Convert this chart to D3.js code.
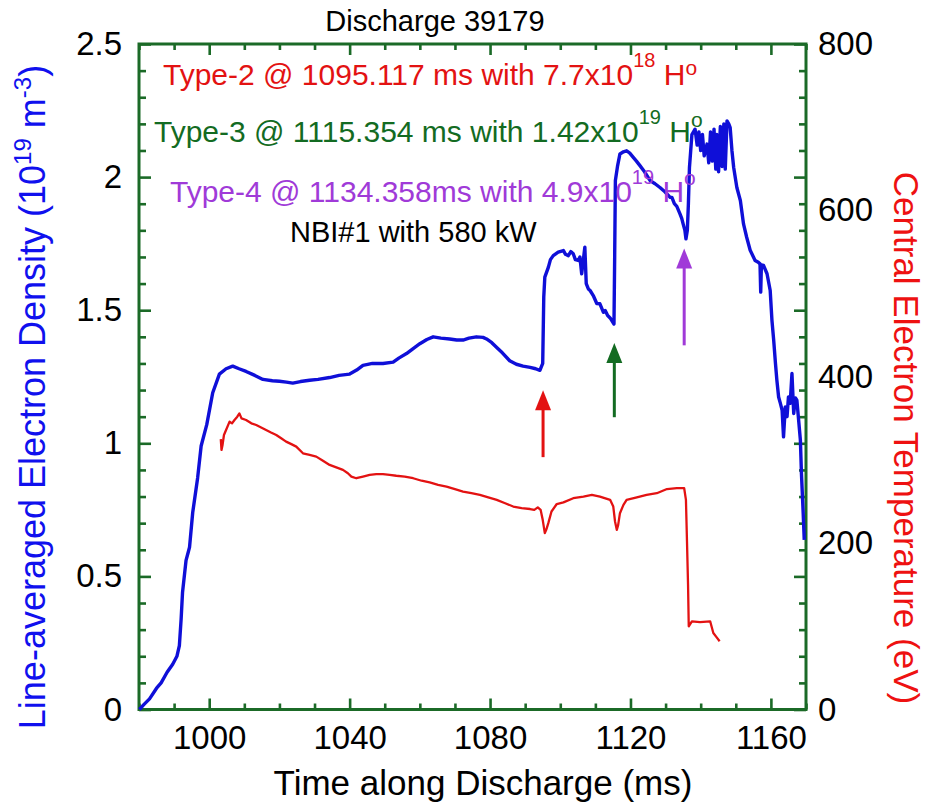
<!DOCTYPE html>
<html>
<head>
<meta charset="utf-8">
<script src="https://cdn.jsdelivr.net/npm/d3@7/dist/d3.min.js"></script>
<style>
  html, body { margin: 0; padding: 0; background: #fff; }
  svg { display: block; font-family: "Liberation Sans", Arial, sans-serif; }
</style>
</head>
<body>
<div id="chart"></div>
<script>
// line-averaged density (1e19 m^-3) vs time (ms)
const densityTime = [
  980.1, 981.5, 983, 985, 986.3, 988, 989.6, 990.8, 991.5, 992.0, 992.4, 993.4, 994.0, 994.4, 995.3,
  996.7, 997.7, 999.3, 1001, 1002.9, 1004.8, 1006.7, 1008.5, 1010.5, 1013, 1015.3, 1018, 1020, 1022,
  1023.8, 1026, 1028.6, 1031, 1034.3, 1037, 1040, 1042, 1043.8, 1046.5, 1049.5, 1052.4, 1054, 1056.2,
  1058, 1060, 1062, 1063.8, 1066, 1068.5, 1070.5, 1072.3, 1074, 1076.1, 1078, 1079, 1080.5, 1081.9,
  1083.5, 1085.6, 1087.5, 1089.4, 1091.4, 1093, 1094.2, 1095.0, 1095.3, 1095.6, 1096.6, 1097.2, 1098,
  1099.4, 1100.9, 1101.5, 1102.3, 1103, 1103.7, 1104.3, 1105.1, 1105.6, 1106.1, 1106.5, 1107, 1107.4,
  1108, 1108.5, 1109.4, 1110.4, 1111.3, 1112.3, 1112.8, 1113.5, 1114.2, 1115.3, 1115.5, 1115.7, 1116.3,
  1117, 1118, 1118.9, 1119.8, 1120.8, 1121.7, 1122.7, 1124, 1125.6, 1127, 1128.4, 1129.8, 1131.3,
  1131.8, 1132.5, 1133.2, 1134.1, 1134.6, 1135, 1135.5, 1135.8, 1136.2, 1136.5, 1136.8, 1137.5, 1138.4,
  1139, 1139.5, 1140, 1140.5, 1141, 1141.8, 1142.3, 1142.8, 1143.3, 1143.8, 1144.3, 1144.6, 1145.1,
  1145.6, 1146.1, 1146.6, 1147, 1147.5, 1148, 1148.4, 1148.9, 1149.4, 1150.3, 1151.3, 1152.2, 1153.1,
  1154.1, 1155.5, 1156.4, 1156.9, 1157.1, 1157.3, 1157.9, 1158.9, 1159.8, 1160.3, 1160.8, 1161.3,
  1161.7, 1162.2, 1162.7, 1163.2, 1163.6, 1164.1, 1164.6, 1165, 1165.5, 1166, 1166.5, 1167, 1167.4,
  1167.9, 1168.4, 1168.7, 1169.2, 1169.5
];
const densityValue = [
  0.00, 0.02, 0.04, 0.08, 0.10, 0.14, 0.17, 0.20, 0.24, 0.34, 0.44, 0.56, 0.59, 0.61, 0.74,
  0.87, 0.99, 1.07, 1.19, 1.26, 1.28, 1.29, 1.28, 1.27, 1.255, 1.24, 1.235, 1.233, 1.23,
  1.226, 1.232, 1.237, 1.24, 1.247, 1.255, 1.26, 1.275, 1.293, 1.30, 1.30, 1.305, 1.32, 1.337,
  1.355, 1.374, 1.39, 1.40, 1.395, 1.392, 1.388, 1.388, 1.395, 1.40, 1.398, 1.392, 1.378, 1.36,
  1.34, 1.31, 1.297, 1.29, 1.285, 1.28, 1.274, 1.30, 1.549, 1.624, 1.661, 1.69, 1.705,
  1.718, 1.724, 1.71, 1.705, 1.72, 1.712, 1.69, 1.687, 1.70, 1.637, 1.68, 1.737, 1.60,
  1.58, 1.574, 1.555, 1.525, 1.524, 1.492, 1.499, 1.48, 1.471, 1.448, 1.70, 1.987, 2.04,
  2.087, 2.095, 2.099, 2.09, 2.074, 2.06, 2.043, 2.02, 1.987, 1.975, 1.961, 1.945, 1.924,
  1.924, 1.90, 1.89, 1.862, 1.845, 1.824, 1.80, 1.768, 1.80, 1.90, 2.036, 2.16, 2.18,
  2.12, 2.17, 2.10, 2.16, 2.08, 2.124, 2.054, 2.17, 2.06, 2.18, 2.03, 2.16, 2.02,
  2.19, 2.04, 2.20, 2.03, 2.211, 2.20, 2.186, 2.10, 2.036, 1.961, 1.912, 1.824, 1.774,
  1.725, 1.687, 1.68, 1.674, 1.568, 1.67, 1.668, 1.637, 1.574, 1.462, 1.387, 1.30,
  1.237, 1.174, 1.15, 1.124, 1.024, 1.137, 1.10, 1.174, 1.15, 1.262, 1.112, 1.17, 1.162,
  1.087, 1.012, 0.887, 0.737, 0.637
];

// central electron temperature (eV)
const tempTime = [
  1003.3, 1003.5, 1003.8, 1004.2, 1004.8, 1005.8, 1006.5, 1007.2, 1008, 1008.6, 1009.2, 1010.5, 1012,
  1013.4, 1014.8, 1016.2, 1017.6, 1019.1, 1020.5, 1021.9, 1023.4, 1024.8, 1026.7, 1028.6, 1030.5,
  1032.4, 1034.3, 1036.2, 1038.1, 1039.5, 1040.5, 1041.9, 1043.8, 1045.7, 1047.6, 1049.5, 1051.4,
  1053.3, 1055.7, 1058.1, 1060.5, 1062.8, 1065.2, 1067.6, 1070, 1072.3, 1074.7, 1077.1, 1079.5,
  1081.9, 1084.3, 1086.6, 1089, 1091.4, 1092.6, 1093.6, 1094.4, 1095.0, 1095.6, 1096.0, 1096.6,
  1097.5, 1099, 1100.9, 1103.7, 1106.6, 1109, 1111.3, 1114.2, 1115.1, 1115.6, 1116.1, 1116.5, 1117,
  1118, 1118.9, 1121.8, 1124.6, 1127.5, 1130.4, 1133.2, 1135.3, 1135.8, 1136.1, 1136.4, 1136.6,
  1137.5, 1139.8, 1142.7, 1143.6, 1144.5, 1145.4
];
const tempValue = [
  325, 312, 318, 330, 336, 346, 344, 348, 352, 356, 350, 348, 344,
  342, 339, 336, 333, 330, 326, 322, 319, 316, 308, 306, 304,
  299, 294, 291, 288, 284, 280, 278, 280, 282, 283, 283, 282,
  281, 280, 278, 275, 273, 270, 268, 265, 262, 260, 258, 255,
  252, 248, 244, 242, 241, 240, 243, 240, 228, 212, 216, 224,
  238, 247, 249, 254, 256, 258, 256, 252, 244, 226, 216, 222, 236,
  246, 252, 255, 258, 260, 265, 266, 266, 252, 202, 150, 100,
  106, 105, 106, 92, 87, 82
];

const timeTicks = [1000, 1040, 1080, 1120, 1160];
const densityTicks = [0, 0.5, 1, 1.5, 2, 2.5];
const tempTicks = [0, 200, 400, 600, 800];

// pellet injections: arrow time, arrow foot and tip (density units)
const pelletType = ["Type-2", "Type-3", "Type-4"];
const pelletTimeLabel = ["1095.117 ms", "1115.354 ms", "1134.358ms"];
const pelletMantissa = ["7.7", "1.42", "4.9"];
const pelletExponent = ["18", "19", "19"];
const pelletArrowTime = [1095.1, 1115.4, 1135.3];
const pelletArrowFoot = [0.948, 1.098, 1.368];
const pelletArrowTip = [1.199, 1.377, 1.732];

const nbiLabel = "NBI#1 with 580 kW";
const chartTitle = "Discharge 39179";

(function () {
  const W = 928, H = 805;
  const FRAME = "#1b6a27";
  const BLUE = "#0f0fd8";
  const RED = "#e31212";
  const PELLET_COLORS = ["#e31212", "#136b22", "#a03ad8"];
  const LABEL_POS = [[163, 85, 10], [154, 141.7, 15], [170, 201.7, 17]];

  const svg = d3.select("#chart").append("svg").attr("width", W).attr("height", H);

  const x = d3.scaleLinear().domain([980, 1170]).range([139, 806]);
  const yDen = d3.scaleLinear().domain([0, 2.5]).range([709.5, 44]);
  const yTemp = d3.scaleLinear().domain([0, 800]).range([709.5, 44]);

  const xMinor = d3.range(980, 1171, 10).filter((t) => t % 40 !== 0);
  const yMinor = d3.range(0, 26).map((i) => i / 10).filter((v) => Math.round(v * 10) % 5 !== 0);

  function styleAxis(g) {
    g.select(".domain").remove();
    g.selectAll(".tick line").attr("stroke", FRAME).attr("stroke-width", 2.6);
    g.selectAll(".tick text").attr("fill", "#000").attr("font-size", 33)
      .attr("font-family", '"Liberation Sans", Arial, sans-serif');
  }

  // bottom
  svg.append("g").attr("transform", "translate(0,709.5)")
    .call(d3.axisBottom(x).tickValues(timeTicks).tickSizeInner(-11).tickSizeOuter(0).tickPadding(16)
      .tickFormat(d3.format("d")))
    .call(styleAxis);
  svg.append("g").attr("transform", "translate(0,709.5)")
    .call(d3.axisBottom(x).tickValues(xMinor).tickSizeInner(-6).tickSizeOuter(0).tickFormat(""))
    .call(styleAxis);
  // top
  svg.append("g").attr("transform", "translate(0,44)")
    .call(d3.axisBottom(x).tickValues(timeTicks).tickSizeInner(11).tickSizeOuter(0).tickFormat(""))
    .call(styleAxis);
  svg.append("g").attr("transform", "translate(0,44)")
    .call(d3.axisBottom(x).tickValues(xMinor).tickSizeInner(6).tickSizeOuter(0).tickFormat(""))
    .call(styleAxis);
  // left
  svg.append("g").attr("transform", "translate(139,0)")
    .call(d3.axisLeft(yDen).tickValues(densityTicks).tickSizeInner(-12).tickSizeOuter(0).tickPadding(17)
      .tickFormat(d3.format("")))
    .call(styleAxis);
  svg.append("g").attr("transform", "translate(139,0)")
    .call(d3.axisLeft(yDen).tickValues(yMinor).tickSizeInner(-7).tickSizeOuter(0).tickFormat(""))
    .call(styleAxis);
  // right: tick marks follow the density grid, labels follow temperature
  svg.append("g").attr("transform", "translate(806,0)")
    .call(d3.axisRight(yDen).tickValues(densityTicks).tickSizeInner(-12).tickSizeOuter(0).tickFormat(""))
    .call(styleAxis);
  svg.append("g").attr("transform", "translate(806,0)")
    .call(d3.axisRight(yDen).tickValues(yMinor).tickSizeInner(-7).tickSizeOuter(0).tickFormat(""))
    .call(styleAxis);
  svg.append("g").attr("transform", "translate(806,0)")
    .call(d3.axisRight(yTemp).tickValues(tempTicks).tickSize(0).tickPadding(12))
    .call(styleAxis);

  svg.append("rect")
    .attr("x", 139).attr("y", 44).attr("width", 806 - 139).attr("height", 709.5 - 44)
    .attr("fill", "none").attr("stroke", FRAME).attr("stroke-width", 3);

  const denLine = d3.line().x((d) => x(d[0])).y((d) => yDen(d[1]));
  const tempLine = d3.line().x((d) => x(d[0])).y((d) => yTemp(d[1]));

  svg.append("path")
    .datum(tempTime.map((t, i) => [t, tempValue[i]]))
    .attr("d", tempLine)
    .attr("fill", "none").attr("stroke", RED).attr("stroke-width", 2.3).attr("stroke-linejoin", "round");

  svg.append("path")
    .datum(densityTime.map((t, i) => [t, densityValue[i]]))
    .attr("d", denLine)
    .attr("fill", "none").attr("stroke", BLUE).attr("stroke-width", 3.4).attr("stroke-linejoin", "round");

  // arrows
  pelletArrowTime.forEach((t, i) => {
    const ax = x(t), y0 = yDen(pelletArrowFoot[i]), y1 = yDen(pelletArrowTip[i]);
    const headLen = 20, headHalf = 8;
    svg.append("line")
      .attr("x1", ax).attr("x2", ax).attr("y1", y0).attr("y2", y1 + headLen - 2)
      .attr("stroke", PELLET_COLORS[i]).attr("stroke-width", 3);
    svg.append("path")
      .attr("d", `M${ax},${y1} L${ax - headHalf},${y1 + headLen} L${ax + headHalf},${y1 + headLen} Z`)
      .attr("fill", PELLET_COLORS[i]);
  });

  // annotations
  pelletType.forEach((type, i) => {
    const [tx, ty, oShift] = LABEL_POS[i];
    const txt = svg.append("text")
      .attr("x", tx).attr("y", ty)
      .attr("font-size", 30).attr("fill", PELLET_COLORS[i]);
    txt.append("tspan").text(`${type} @ ${pelletTimeLabel[i]} with ${pelletMantissa[i]}x10`);
    txt.append("tspan").attr("dy", -18).attr("font-size", 20).text(pelletExponent[i]);
    txt.append("tspan").attr("dy", 18).text("\u00a0H");
    txt.append("tspan").attr("dy", -oShift).attr("font-size", 21).text("o");
  });

  svg.append("text")
    .attr("x", 290).attr("y", 241.7)
    .attr("font-size", 29).attr("fill", "#000")
    .text(nbiLabel);

  svg.append("text")
    .attr("x", 435).attr("y", 31).attr("text-anchor", "middle")
    .attr("font-size", 29).attr("fill", "#000")
    .text(chartTitle);

  svg.append("text")
    .attr("x", 483).attr("y", 795).attr("text-anchor", "middle")
    .attr("font-size", 35).attr("fill", "#000")
    .text("Time along Discharge (ms)");

  const leftTitle = svg.append("text")
    .attr("transform", "translate(45,397) rotate(-90)")
    .attr("text-anchor", "middle")
    .attr("font-size", 36).attr("fill", "#1010ee");
  leftTitle.append("tspan").text("Line-averaged Electron Density (10");
  leftTitle.append("tspan").attr("dy", -14).attr("font-size", 24).text("19");
  leftTitle.append("tspan").attr("dy", 14).text("\u00a0m");
  leftTitle.append("tspan").attr("dy", -14).attr("font-size", 24).text("-3");
  leftTitle.append("tspan").attr("dy", 14).text(")");

  svg.append("text")
    .attr("transform", "translate(894,438) rotate(90)")
    .attr("text-anchor", "middle")
    .attr("font-size", 35).attr("fill", "#ee1111")
    .text("Central Electron Temperature (eV)");
})();
</script>
</body>
</html>
